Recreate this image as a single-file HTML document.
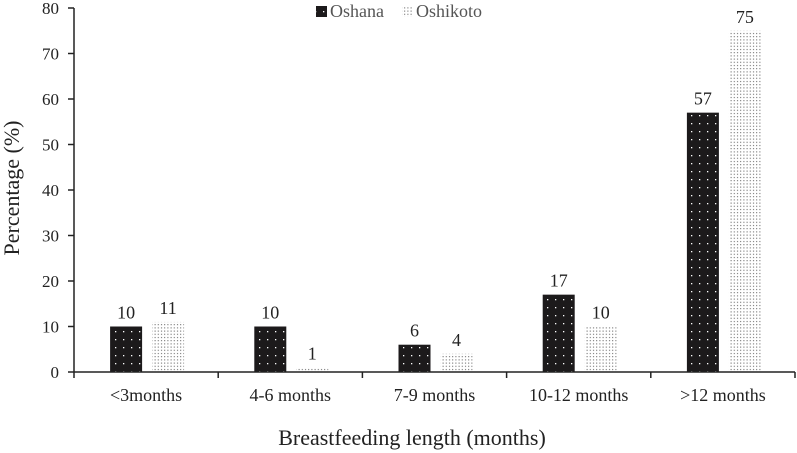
<!DOCTYPE html>
<html><head><meta charset="utf-8"><style>
html,body{margin:0;padding:0;background:#fff;}
svg{display:block;font-family:"Liberation Serif",serif;}
</style></head><body>
<svg id="chart" width="797" height="453" viewBox="0 0 797 453">
<defs>
<pattern id="pOsh" width="8" height="8" patternUnits="userSpaceOnUse">
<rect width="8" height="8" fill="#1c1a1b"/><rect x="3" y="3" width="1.3" height="1.3" fill="#fff"/>
</pattern>
<pattern id="pOsk" width="3.2" height="3.2" patternUnits="userSpaceOnUse">
<rect width="3.2" height="3.2" fill="#fff"/><rect x="1" y="1" width="1" height="1" fill="#555"/>
</pattern>
</defs>
<g id="plot"></g>
<text x="412" y="445" text-anchor="middle" font-size="22" fill="#222">Breastfeeding length (months)</text>
<text transform="translate(19,188) rotate(-90)" text-anchor="middle" font-size="22" fill="#222">Percentage (%)</text>
<g>
<rect x="316" y="6" width="11" height="11" fill="url(#pOsh)"/>
<text x="330" y="17" font-size="18" fill="#555">Oshana</text>
<rect x="402" y="6" width="11" height="11" fill="url(#pOsk)"/>
<text x="416" y="17" font-size="18" fill="#555">Oshikoto</text>
</g>
</svg>
<script>
const categories = ["<3months","4-6 months","7-9 months","10-12 months",">12 months"];
const oshana = [10,10,6,17,57];
const oshikoto = [11,1,4,10,75];
const yTicks = [0,10,20,30,40,50,60,70,80];

const NS="http://www.w3.org/2000/svg";
const g=document.getElementById('plot');
const x0=74, x1=795, yBase=372, yTop=8, yMax=80;
const band=(x1-x0)/categories.length;
const y=v=>yBase-(v/yMax)*(yBase-yTop);
const cx=i=>x0+band*(i+0.5);
function mk(tag,attrs){const e=document.createElementNS(NS,tag);for(const k in attrs)e.setAttribute(k,attrs[k]);g.appendChild(e);return e;}

yTicks.forEach(t=>{
  const l=mk('line',{x1:x0-6,x2:x0,y1:y(t),y2:y(t),stroke:'#222','stroke-width':1.5});
  
  
  const tx=mk('text',{x:x0-15,y:y(t)+6,'text-anchor':'end','font-size':17,fill:'#222'});
  tx.textContent=t;
  
  
});
categories.forEach((c,i)=>{
  const c0=cx(i);
  const b1=mk('rect',{x:c0-36,y:y(oshana[i]),width:32,height:yBase-y(oshana[i]),fill:'url(#pOsh)'});
  
  
  const b2=mk('rect',{x:c0+6,y:y(oshikoto[i]),width:32,height:yBase-y(oshikoto[i]),fill:'url(#pOsk)'});
  
  
  const v1=mk('text',{x:c0-20,y:y(oshana[i])-8,'text-anchor':'middle','font-size':18,fill:'#222'});
  v1.textContent=oshana[i];
  
  
  const v2=mk('text',{x:c0+22,y:y(oshikoto[i])-8,'text-anchor':'middle','font-size':18,fill:'#222'});
  v2.textContent=oshikoto[i];
  
  
  const cl=mk('text',{x:c0,y:401,'text-anchor':'middle','font-size':18,fill:'#222'});
  cl.textContent=c;
  
  
});
for(let i=0;i<=categories.length;i++){
  const xt=x0+band*i;
  const t=mk('line',{x1:xt,x2:xt,y1:yBase,y2:yBase+6,stroke:'#222','stroke-width':1.5});
  
  
}
const ya=mk('line',{x1:x0,x2:x0,y1:yTop,y2:yBase,stroke:'#222','stroke-width':1.5});


const xa=mk('line',{x1:x0,x2:x1,y1:yBase,y2:yBase,stroke:'#222','stroke-width':1.5});


</script>
</body></html>
